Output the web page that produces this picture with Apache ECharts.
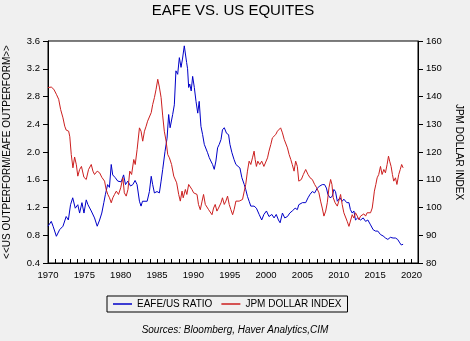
<!DOCTYPE html>
<html>
<head>
<meta charset="utf-8">
<script src="https://cdn.jsdelivr.net/npm/echarts@6/dist/echarts.min.js"></script>
<style>html,body{margin:0;padding:0;background:#f0f0f0;}#c{width:470px;height:341px;}</style>
</head>
<body>
<div id="c"></div>
<script>
const ratioYears = [1970.0,1970.2,1970.45,1970.7,1971.15,1971.6,1972.06,1972.5,1972.8,1973.1,1973.4,1973.75,1974.1,1974.35,1974.67,1974.95,1975.26,1975.5,1975.95,1976.4,1976.77,1977.1,1977.4,1977.68,1977.9,1978.2,1978.45,1978.7,1978.9,1979.25,1979.6,1980.07,1980.4,1980.66,1980.98,1981.35,1981.67,1981.98,1982.25,1982.58,1982.8,1983.0,1983.27,1983.64,1983.95,1984.2,1984.4,1984.64,1985.0,1985.32,1985.56,1985.78,1986.1,1986.38,1986.6,1986.8,1987.15,1987.38,1987.6,1987.84,1988.07,1988.3,1988.5,1988.75,1988.9,1989.07,1989.2,1989.35,1989.5,1989.7,1989.9,1990.13,1990.36,1990.6,1990.8,1991.04,1991.27,1991.5,1991.73,1991.95,1992.18,1992.4,1992.64,1992.87,1993.1,1993.33,1993.56,1993.8,1994.0,1994.25,1994.56,1994.84,1995.03,1995.3,1995.6,1995.85,1996.07,1996.4,1996.67,1997.0,1997.2,1997.44,1997.67,1997.9,1998.35,1998.67,1999.05,1999.4,1999.7,2000.05,2000.4,2000.8,2001.1,2001.4,2001.7,2001.93,2002.25,2002.57,2002.94,2003.26,2003.6,2004.0,2004.3,2004.5,2005.0,2005.45,2005.77,2006.05,2006.36,2006.68,2007.05,2007.4,2007.73,2008.05,2008.3,2008.5,2008.8,2009.1,2009.33,2009.55,2009.8,2010.16,2010.47,2010.7,2011.1,2011.4,2011.6,2011.85,2012.08,2012.3,2012.6,2013.0,2013.36,2013.69,2014.0,2014.37,2014.73,2015.05,2015.37,2015.74,2016.1,2016.43,2016.75,2017.1,2017.47,2017.8,2018.1,2018.4,2018.6,2018.85];
const ratioValues = [0.93,0.96,1.0,0.93,0.785,0.88,0.93,1.07,1.02,1.24,1.34,1.19,1.24,1.12,1.27,1.12,1.31,1.24,1.15,1.05,0.93,1.02,1.12,1.27,1.39,1.53,1.49,1.82,1.67,1.63,1.58,1.57,1.67,1.53,1.58,1.51,1.53,1.59,1.53,1.29,1.22,1.29,1.28,1.29,1.43,1.65,1.53,1.41,1.43,1.41,1.58,1.75,2.01,2.20,2.54,2.35,2.54,2.68,3.17,3.12,3.36,3.22,3.34,3.53,3.52,3.29,3.2,2.93,2.98,2.88,3.09,2.93,2.73,2.56,2.73,2.37,2.25,2.11,2.09,1.99,1.92,1.87,1.82,1.75,1.87,2.06,2.11,2.18,2.32,2.35,2.27,2.25,2.11,1.99,1.89,1.82,1.80,1.77,1.63,1.53,1.46,1.36,1.29,1.22,1.22,1.19,1.10,1.02,1.10,1.15,1.07,1.10,1.05,1.10,1.02,0.98,1.12,1.05,1.07,1.12,1.15,1.19,1.17,1.24,1.27,1.27,1.34,1.39,1.43,1.41,1.48,1.51,1.53,1.53,1.48,1.39,1.34,1.36,1.46,1.43,1.29,1.34,1.29,1.32,1.27,1.27,1.17,1.12,1.15,1.02,1.05,1.02,1.05,1.0,1.02,0.95,0.88,0.86,0.86,0.81,0.79,0.76,0.74,0.77,0.76,0.76,0.74,0.69,0.66,0.67];

const dollarYears = [1970.0,1970.45,1970.8,1971.15,1971.47,1971.74,1972.06,1972.3,1972.5,1972.84,1973.0,1973.2,1973.43,1973.66,1973.9,1974.1,1974.35,1974.6,1974.94,1975.26,1975.58,1975.95,1976.18,1976.4,1976.77,1977.1,1977.4,1977.78,1978.0,1978.23,1978.46,1978.7,1978.92,1979.15,1979.4,1979.7,1980.0,1980.3,1980.5,1980.76,1981.0,1981.25,1981.5,1981.8,1982.0,1982.26,1982.58,1982.8,1983.03,1983.27,1983.5,1983.7,1983.95,1984.2,1984.4,1984.64,1984.87,1985.1,1985.32,1985.56,1985.78,1986.0,1986.25,1986.47,1986.7,1987.0,1987.3,1987.45,1987.7,1987.98,1988.2,1988.44,1988.6,1988.9,1989.1,1989.35,1989.6,1989.8,1990.03,1990.26,1990.5,1990.7,1990.95,1991.2,1991.4,1991.64,1991.87,1992.1,1992.33,1992.56,1992.78,1993.0,1993.24,1993.46,1993.8,1994.0,1994.25,1994.47,1994.7,1994.93,1995.16,1995.4,1995.6,1995.85,1996.07,1996.3,1996.53,1996.76,1997.0,1997.2,1997.44,1997.67,1997.9,1998.13,1998.35,1998.5,1998.67,1998.86,1999.13,1999.4,1999.7,1999.95,2000.2,2000.4,2000.65,2000.87,2001.1,2001.33,2001.56,2001.8,2002.0,2002.25,2002.5,2002.7,2002.94,2003.17,2003.4,2003.6,2003.85,2004.07,2004.3,2004.5,2004.85,2005.13,2005.45,2005.77,2006.05,2006.36,2006.68,2006.96,2007.27,2007.5,2007.73,2007.96,2008.2,2008.42,2008.65,2008.88,2009.06,2009.24,2009.5,2009.8,2010.0,2010.25,2010.47,2010.7,2010.93,2011.16,2011.4,2011.6,2011.85,2012.08,2012.3,2012.55,2012.77,2013.0,2013.23,2013.45,2013.69,2013.9,2014.14,2014.37,2014.6,2014.73,2014.9,2015.1,2015.28,2015.5,2015.74,2015.96,2016.2,2016.42,2016.65,2016.84,2017.0,2017.2,2017.38,2017.56,2017.8,2018.0,2018.25,2018.46,2018.65,2018.85];
const dollarValues = [143.2,143.4,142.6,140.8,139.0,135.3,132.3,129.3,127.9,127.5,125.5,119.1,114.3,118.2,115.4,111.3,113.7,114.8,110.9,110.1,113.7,115.5,113.1,111.9,113.1,112.5,110.9,109.5,106.5,104.7,103.5,101.7,103.5,104.7,105.9,104.7,107.1,110.7,105.3,104.1,106.5,113.1,111.9,117.3,115.5,120.9,128.7,127.5,123.9,127.5,129.3,131.1,131.7,134.2,137.1,139.6,142.6,146.2,143.4,139.6,133.0,127.5,123.9,119.1,117.9,115.5,111.3,111.3,108.9,104.7,102.3,105.9,103.5,106.5,104.7,108.3,108.9,106.5,105.3,105.9,104.7,101.1,99.2,102.3,104.7,101.1,101.7,99.2,98.7,97.4,99.8,101.1,98.7,99.8,101.7,103.5,101.1,102.3,104.1,101.1,99.2,97.4,99.2,102.3,101.7,102.3,102.3,102.9,105.9,108.3,113.1,116.7,115.5,117.9,120.3,117.3,114.8,116.7,115.5,116.7,114.8,115.5,117.9,120.3,122.7,125.1,125.7,126.3,127.5,126.9,128.7,126.9,124.5,125.1,121.5,119.1,117.3,115.5,113.1,116.7,114.8,109.5,110.1,111.9,113.7,111.9,110.7,110.1,108.3,107.1,105.3,102.3,99.8,96.9,98.7,101.7,107.1,110.1,108.3,103.5,101.7,100.5,102.3,104.7,101.1,98.1,97.4,95.0,93.2,93.8,97.4,96.2,98.1,96.9,95.6,96.9,97.4,97.7,96.9,98.1,97.4,98.1,99.8,102.3,105.9,108.3,110.7,111.9,114.8,111.9,113.7,112.5,115.5,118.5,116.7,114.8,111.9,109.5,110.7,108.3,111.9,113.7,115.5,114.3];

const seriesNames = ['EAFE/US RATIO', 'JPM DOLLAR INDEX'];
const titleText = 'EAFE VS. US EQUITES';
const leftAxisName = '<<US OUTPERFORM/EAFE OUTPERFORM>>';
const rightAxisName = 'JPM DOLLAR INDEX';
const sourceText = 'Sources: Bloomberg, Haver Analytics,CIM';

const FONT = '"Liberation Sans", Arial, sans-serif';
const chart = echarts.init(document.getElementById('c'), null, {renderer: 'canvas'});
const pair = (xs, ys) => xs.map((x, i) => [x, ys[i]]);

chart.setOption({
  backgroundColor: '#f0f0f0',
  animation: false,
  textStyle: {fontFamily: FONT, color: '#000'},
  title: {
    text: titleText, left: 233, top: 3, textAlign: 'center', padding: 0,
    textStyle: {fontSize: 15, fontWeight: 'normal', color: '#000', fontFamily: FONT}
  },
  grid: {
    left: 48, right: 52, top: 41, bottom: 78,
    containLabel: false, outerBoundsMode: 'none',
    show: true, backgroundColor: '#ffffff', borderColor: '#000', borderWidth: 1
  },
  legend: {
    left: 107, top: 296, padding: [3, 6], itemGap: 9,
    borderColor: '#000', borderWidth: 1, borderRadius: 0,
    icon: 'rect', itemWidth: 19, itemHeight: 1.5,
    textStyle: {fontSize: 10, color: '#000', fontFamily: FONT},
    data: seriesNames
  },
  xAxis: {
    type: 'value', min: 1970, max: 2020.9, interval: 1,
    axisLine: {lineStyle: {color: '#000', width: 1}},
    axisTick: {inside: true, length: 4, lineStyle: {color: '#000'}},
    axisLabel: {
      fontSize: 9.5, color: '#000', margin: 7, fontFamily: FONT,
      formatter: v => (Math.abs(v - Math.round(v)) < 1e-6 && Math.round(v) % 5 === 0) ? String(Math.round(v)) : ''
    },
    splitLine: {show: false}
  },
  yAxis: [
    {
      type: 'value', position: 'left', min: 0.4, max: 3.6, interval: 0.4,
      name: leftAxisName, nameLocation: 'middle', nameGap: 36,
      nameTextStyle: {fontSize: 10, color: '#000', fontFamily: FONT},
      axisLine: {show: true, lineStyle: {color: '#000', width: 1}},
      axisTick: {show: true, inside: false, length: 5, lineStyle: {color: '#000'}},
      axisLabel: {fontSize: 9.5, color: '#000', margin: 8, fontFamily: FONT, formatter: v => v.toFixed(1)},
      splitLine: {show: false}
    },
    {
      type: 'value', position: 'right', min: 80, max: 160, interval: 10,
      name: rightAxisName, nameLocation: 'middle', nameGap: 36, nameRotate: -90,
      nameTextStyle: {fontSize: 10, color: '#000', fontFamily: FONT},
      axisLine: {show: true, lineStyle: {color: '#000', width: 1}},
      axisTick: {show: true, inside: false, length: 5, lineStyle: {color: '#000'}},
      axisLabel: {fontSize: 9.5, color: '#000', margin: 8, fontFamily: FONT},
      splitLine: {show: false}
    }
  ],
  graphic: [{
    type: 'text', left: 'center', top: 325,
    style: {text: sourceText, fontSize: 10, fontStyle: 'italic', fontFamily: FONT, fill: '#000'}
  }],
  series: [
    {
      name: seriesNames[0], type: 'line', yAxisIndex: 0, showSymbol: false, symbol: 'none',
      data: pair(ratioYears, ratioValues),
      lineStyle: {color: '#0000c8', width: 1}, itemStyle: {color: '#0000c8'}
    },
    {
      name: seriesNames[1], type: 'line', yAxisIndex: 1, showSymbol: false, symbol: 'none',
      data: pair(dollarYears, dollarValues),
      lineStyle: {color: '#cc1f1f', width: 1}, itemStyle: {color: '#cc1f1f'}
    }
  ]
});
</script>
</body>
</html>
